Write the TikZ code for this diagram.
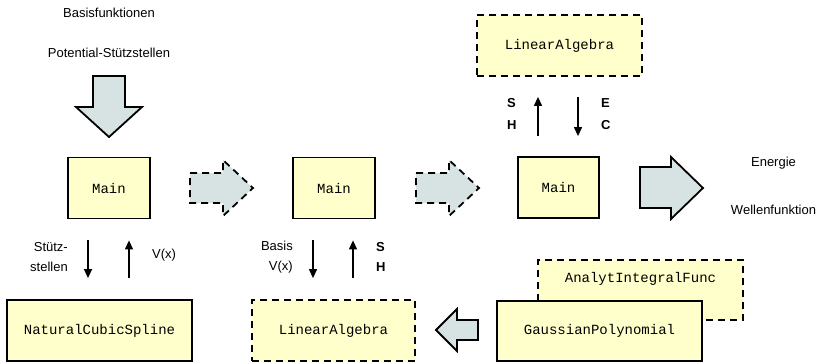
\documentclass[tikz,border=0pt]{standalone}
\usepackage{fontspec}
\setmainfont{Liberation Sans}
\newfontfamily\codefont{Liberation Mono}
\usetikzlibrary{arrows.meta}
\definecolor{BoxYellow}{HTML}{FFFFCC}
\definecolor{ArrowGray}{HTML}{D7E3E3}
\newcommand\labelsize{\fontsize{13}{20}\selectfont}
\newcommand\codesize{\codefont\fontsize{14}{16}\selectfont}
\tikzset{
  modul/.style={draw,line width=1.8pt,fill=BoxYellow,minimum height=61pt,inner sep=0pt,font=\codesize},
  extern/.style={modul,dash pattern=on 7pt off 5pt},
  blockpfeil/.style={draw,line width=1.8pt,fill=ArrowGray},
  fluss/.style={-{Triangle[length=9pt,width=8pt]},line width=1.2pt},
  hinweis/.style={font=\labelsize,inner sep=0pt},
}
\begin{document}
\begin{tikzpicture}[x=1pt,y=-1pt]
  \useasboundingbox (0,0) rectangle (825,362);

  % Eingaben oben links
  \node[hinweis] (basisfkt) at (109,13) {Basisfunktionen};
  \node[hinweis] (potstuetz) at (109,53) {Potential-Stützstellen};
  \draw[blockpfeil] (93,76) -- (125,76) -- (125,107) -- (142,107)
    -- (109,137) -- (76,107) -- (93,107) -- cycle;

  % drei Main-Schritte
  \node[modul,minimum width=82pt] (main1) at (109,188) {Main};
  \node[modul,minimum width=82pt] (main2) at (334,188) {Main};
  \node[modul,minimum width=81pt] (main3) at (558.5,187.5) {Main};
  \foreach \x in {190,416}
    \draw[blockpfeil,dash pattern=on 7pt off 5pt] (\x,173) -- ++(33,0) -- ++(0,-13)
      -- ++(30,28) -- ++(-30,28) -- ++(0,-13) -- ++(-33,0) -- cycle;

  % Ausgabe
  \draw[blockpfeil] (640,167) -- (671,167) -- (671,157) -- (703,188)
    -- (671,219) -- (671,208) -- (640,208) -- cycle;
  \node[hinweis] (energie) at (773.5,163) {Energie};
  \node[hinweis] (welle) at (773.5,210) {Wellenfunktion};

  % Module
  \node[extern,minimum width=165pt] (linalgA) at (559.5,45.5) {LinearAlgebra};
  \node[modul,minimum width=185pt] (spline) at (99.5,330.5) {NaturalCubicSpline};
  \node[extern,minimum width=163pt] (linalgB) at (333.5,330.5) {LinearAlgebra};
  \node[extern,minimum width=205pt,minimum height=60pt] (analyt) at (640.5,290) {};
  \node[font=\codesize] (analytname) at (640.5,279) {AnalytIntegralFunc};
  \node[modul,minimum width=205pt,minimum height=60pt] (gauss) at (599.5,331) {GaussianPolynomial};
  \draw[blockpfeil] (478,320) -- (457,320) -- (457,309) -- (436,330)
    -- (457,351) -- (457,340) -- (478,340) -- cycle;

  % Main <-> NaturalCubicSpline
  \draw[fluss,shorten <=21pt,shorten >=21pt] ([xshift=-21pt]main1.south) -- ([xshift=-21pt]main1.south |- spline.north);
  \draw[fluss,shorten <=21pt,shorten >=21pt] ([xshift=20pt]main1.south |- spline.north) -- ([xshift=20pt]main1.south);
  \node[hinweis,align=right,anchor=east] (stuetz) at (68,257) {Stütz-\\stellen};
  \node[hinweis] (vx1) at (164,255) {V(x)};

  % Main <-> LinearAlgebra (unten)
  \draw[fluss,shorten <=21pt,shorten >=21pt] ([xshift=-21pt]main2.south) -- ([xshift=-21pt]main2.south |- linalgB.north);
  \draw[fluss,shorten <=21pt,shorten >=21pt] ([xshift=19pt]main2.south |- linalgB.north) -- ([xshift=19pt]main2.south);
  \node[hinweis,align=right,anchor=east] (basisvx) at (293,257) {Basis\\V(x)};
  \node[hinweis,align=left,anchor=west,font=\labelsize\bfseries] (sh1) at (376,257) {S\\H};

  % Main <-> LinearAlgebra (oben)
  \draw[fluss,shorten <=20pt,shorten >=20pt] ([xshift=-20.5pt]main3.north) -- ([xshift=-20.5pt]main3.north |- linalgA.south);
  \draw[fluss,shorten <=20pt,shorten >=20pt] ([xshift=19.5pt]main3.north |- linalgA.south) -- ([xshift=19.5pt]main3.north);
  \node[hinweis,align=left,anchor=west,font=\fontsize{13}{22}\selectfont\bfseries] (sh2) at (507,114) {S\\H};
  \node[hinweis,align=left,anchor=west,font=\fontsize{13}{22}\selectfont\bfseries] (ec) at (601,114) {E\\C};
\end{tikzpicture}
\end{document}
